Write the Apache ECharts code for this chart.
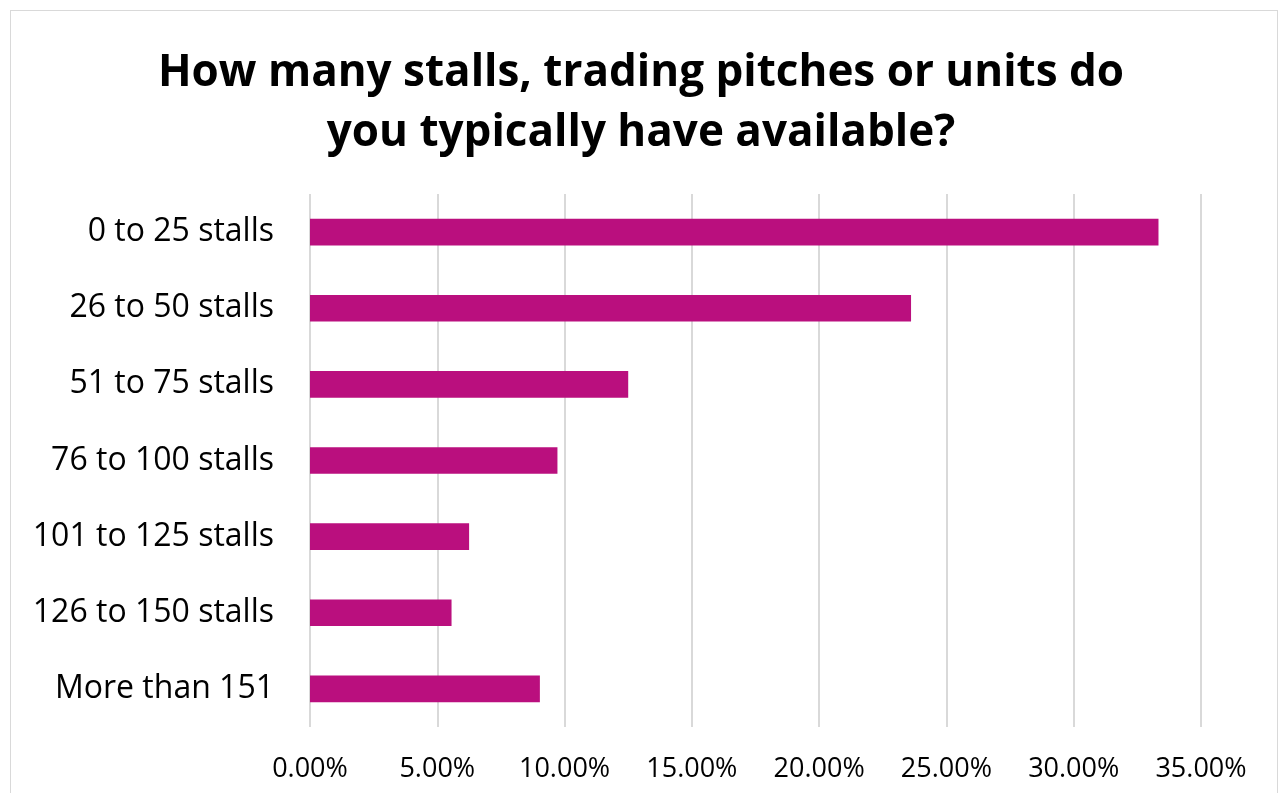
<!DOCTYPE html>
<html>
<head>
<meta charset="utf-8">
<script src="https://cdn.jsdelivr.net/npm/echarts@6/dist/echarts.min.js"></script>
<style>
  html, body { margin: 0; padding: 0; background: #fff; }
  #frame { position: absolute; left: 10px; top: 10px; width: 1268px; height: 800px; border: 1px solid #d9d9d9; box-sizing: border-box; }
  #chart { position: absolute; left: 0; top: 0; width: 1282px; height: 793px; }
</style>
</head>
<body>
<div id="frame"></div>
<div id="chart"></div>
<script>
// Stall-count bands and their share of responses (percent)
const categories = [
  '0 to 25 stalls',
  '26 to 50 stalls',
  '51 to 75 stalls',
  '76 to 100 stalls',
  '101 to 125 stalls',
  '126 to 150 stalls',
  'More than 151'
];
const shares = [33.33, 23.61, 12.50, 9.72, 6.25, 5.56, 9.03];
const titleText = 'How many stalls, trading pitches or units do\nyou typically have available?';

const chart = echarts.init(document.getElementById('chart'), null, { renderer: 'canvas' });
chart.setOption({
  animation: false,
  title: {
    text: titleText,
    left: 'center',
    top: 38,
    textStyle: {
      fontFamily: 'Open Sans',
      fontWeight: 'bold',
      fontSize: 44,
      lineHeight: 60,
      color: '#000'
    }
  },
  grid: { left: 310, right: 81, top: 194, bottom: 66, containLabel: false },
  xAxis: {
    type: 'value',
    min: 0,
    max: 35,
    interval: 5,
    axisLine: { show: false },
    axisTick: { show: false },
    splitLine: { show: true, lineStyle: { color: '#d9d9d9', width: 2 } },
    axisLabel: {
      formatter: v => v.toFixed(2) + '%',
      fontFamily: 'Open Sans',
      fontSize: 27,
      color: '#000',
      margin: 29
    }
  },
  yAxis: {
    type: 'category',
    data: categories,
    inverse: true,
    axisLine: { show: false },
    axisTick: { show: false },
    axisLabel: {
      fontFamily: 'Open Sans',
      fontSize: 32,
      color: '#000',
      margin: 36
    }
  },
  series: [{
    type: 'bar',
    data: shares,
    barWidth: '35%',
    itemStyle: { color: '#BA0F7E' }
  }]
});
</script>
</body>
</html>
